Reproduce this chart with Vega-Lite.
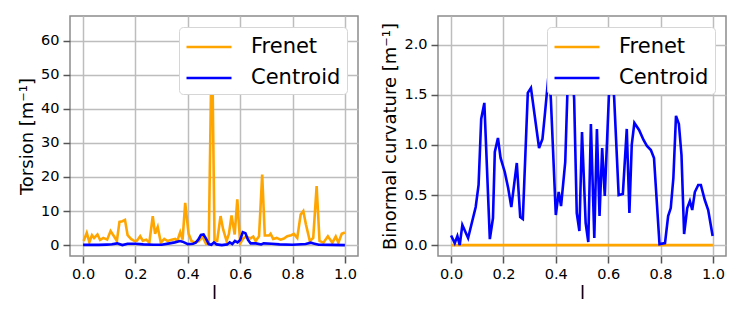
{
  "$schema": "https://vega.github.io/schema/vega-lite/v6.json",
  "background": "white",
  "padding": {"left": 17, "top": 15, "right": 5, "bottom": 5},
  "spacing": 80,
  "bounds": "flush",
  "datasets": {
    "torsion": [
      {"l": 0.002, "value": 1.2, "series": "Frenet"},
      {"l": 0.014, "value": 3.6, "series": "Frenet"},
      {"l": 0.024, "value": 0.9, "series": "Frenet"},
      {"l": 0.034, "value": 2.9, "series": "Frenet"},
      {"l": 0.042, "value": 2.1, "series": "Frenet"},
      {"l": 0.055, "value": 3.1, "series": "Frenet"},
      {"l": 0.065, "value": 1.5, "series": "Frenet"},
      {"l": 0.077, "value": 2.1, "series": "Frenet"},
      {"l": 0.092, "value": 1.6, "series": "Frenet"},
      {"l": 0.105, "value": 4.1, "series": "Frenet"},
      {"l": 0.118, "value": 2.6, "series": "Frenet"},
      {"l": 0.129, "value": 1.2, "series": "Frenet"},
      {"l": 0.139, "value": 6.8, "series": "Frenet"},
      {"l": 0.15, "value": 7.0, "series": "Frenet"},
      {"l": 0.16, "value": 7.4, "series": "Frenet"},
      {"l": 0.17, "value": 2.9, "series": "Frenet"},
      {"l": 0.183, "value": 1.8, "series": "Frenet"},
      {"l": 0.196, "value": 1.2, "series": "Frenet"},
      {"l": 0.206, "value": 1.3, "series": "Frenet"},
      {"l": 0.218, "value": 2.6, "series": "Frenet"},
      {"l": 0.228, "value": 1.3, "series": "Frenet"},
      {"l": 0.241, "value": 1.6, "series": "Frenet"},
      {"l": 0.253, "value": 0.7, "series": "Frenet"},
      {"l": 0.266, "value": 8.5, "series": "Frenet"},
      {"l": 0.275, "value": 3.3, "series": "Frenet"},
      {"l": 0.285, "value": 5.3, "series": "Frenet"},
      {"l": 0.297, "value": 0.7, "series": "Frenet"},
      {"l": 0.31, "value": 1.8, "series": "Frenet"},
      {"l": 0.323, "value": 1.2, "series": "Frenet"},
      {"l": 0.338, "value": 1.6, "series": "Frenet"},
      {"l": 0.352, "value": 1.8, "series": "Frenet"},
      {"l": 0.36, "value": 1.3, "series": "Frenet"},
      {"l": 0.371, "value": 3.8, "series": "Frenet"},
      {"l": 0.38, "value": 1.6, "series": "Frenet"},
      {"l": 0.39, "value": 12.4, "series": "Frenet"},
      {"l": 0.403, "value": 3.3, "series": "Frenet"},
      {"l": 0.414, "value": 1.2, "series": "Frenet"},
      {"l": 0.427, "value": 0.7, "series": "Frenet"},
      {"l": 0.443, "value": 1.2, "series": "Frenet"},
      {"l": 0.456, "value": 2.5, "series": "Frenet"},
      {"l": 0.47, "value": 0.3, "series": "Frenet"},
      {"l": 0.48, "value": 0.5, "series": "Frenet"},
      {"l": 0.492, "value": 64.0, "series": "Frenet"},
      {"l": 0.502, "value": 1.0, "series": "Frenet"},
      {"l": 0.512, "value": 1.2, "series": "Frenet"},
      {"l": 0.525, "value": 8.5, "series": "Frenet"},
      {"l": 0.535, "value": 4.6, "series": "Frenet"},
      {"l": 0.548, "value": 1.2, "series": "Frenet"},
      {"l": 0.557, "value": 3.3, "series": "Frenet"},
      {"l": 0.567, "value": 8.7, "series": "Frenet"},
      {"l": 0.579, "value": 3.1, "series": "Frenet"},
      {"l": 0.589, "value": 13.4, "series": "Frenet"},
      {"l": 0.6, "value": 0.5, "series": "Frenet"},
      {"l": 0.612, "value": 2.0, "series": "Frenet"},
      {"l": 0.624, "value": 2.5, "series": "Frenet"},
      {"l": 0.637, "value": 1.9, "series": "Frenet"},
      {"l": 0.65, "value": 2.5, "series": "Frenet"},
      {"l": 0.659, "value": 1.2, "series": "Frenet"},
      {"l": 0.672, "value": 2.6, "series": "Frenet"},
      {"l": 0.684, "value": 20.7, "series": "Frenet"},
      {"l": 0.694, "value": 2.8, "series": "Frenet"},
      {"l": 0.71, "value": 2.8, "series": "Frenet"},
      {"l": 0.716, "value": 3.3, "series": "Frenet"},
      {"l": 0.726, "value": 1.8, "series": "Frenet"},
      {"l": 0.739, "value": 2.1, "series": "Frenet"},
      {"l": 0.754, "value": 1.6, "series": "Frenet"},
      {"l": 0.767, "value": 1.9, "series": "Frenet"},
      {"l": 0.78, "value": 2.6, "series": "Frenet"},
      {"l": 0.795, "value": 2.9, "series": "Frenet"},
      {"l": 0.805, "value": 3.3, "series": "Frenet"},
      {"l": 0.818, "value": 2.1, "series": "Frenet"},
      {"l": 0.831, "value": 9.0, "series": "Frenet"},
      {"l": 0.841, "value": 10.0, "series": "Frenet"},
      {"l": 0.851, "value": 6.1, "series": "Frenet"},
      {"l": 0.866, "value": 1.2, "series": "Frenet"},
      {"l": 0.879, "value": 2.1, "series": "Frenet"},
      {"l": 0.892, "value": 17.3, "series": "Frenet"},
      {"l": 0.903, "value": 1.2, "series": "Frenet"},
      {"l": 0.918, "value": 0.7, "series": "Frenet"},
      {"l": 0.935, "value": 2.6, "series": "Frenet"},
      {"l": 0.952, "value": 0.7, "series": "Frenet"},
      {"l": 0.965, "value": 2.5, "series": "Frenet"},
      {"l": 0.975, "value": 0.7, "series": "Frenet"},
      {"l": 0.988, "value": 3.3, "series": "Frenet"},
      {"l": 1.0, "value": 3.7, "series": "Frenet"},
      {"l": 0.0, "value": 0.05, "series": "Centroid"},
      {"l": 0.03, "value": 0.1, "series": "Centroid"},
      {"l": 0.06, "value": 0.05, "series": "Centroid"},
      {"l": 0.09, "value": 0.15, "series": "Centroid"},
      {"l": 0.11, "value": 0.25, "series": "Centroid"},
      {"l": 0.13, "value": 0.5, "series": "Centroid"},
      {"l": 0.15, "value": 0.0, "series": "Centroid"},
      {"l": 0.17, "value": 0.4, "series": "Centroid"},
      {"l": 0.2, "value": 0.4, "series": "Centroid"},
      {"l": 0.23, "value": 0.2, "series": "Centroid"},
      {"l": 0.27, "value": 0.1, "series": "Centroid"},
      {"l": 0.3, "value": 0.1, "series": "Centroid"},
      {"l": 0.33, "value": 0.5, "series": "Centroid"},
      {"l": 0.35, "value": 0.8, "series": "Centroid"},
      {"l": 0.37, "value": 1.2, "series": "Centroid"},
      {"l": 0.38, "value": 1.0, "series": "Centroid"},
      {"l": 0.4, "value": 0.3, "series": "Centroid"},
      {"l": 0.42, "value": 0.4, "series": "Centroid"},
      {"l": 0.43, "value": 0.7, "series": "Centroid"},
      {"l": 0.44, "value": 1.6, "series": "Centroid"},
      {"l": 0.45, "value": 3.0, "series": "Centroid"},
      {"l": 0.46, "value": 3.1, "series": "Centroid"},
      {"l": 0.47, "value": 1.8, "series": "Centroid"},
      {"l": 0.48, "value": 0.3, "series": "Centroid"},
      {"l": 0.49, "value": 0.1, "series": "Centroid"},
      {"l": 0.5, "value": 0.8, "series": "Centroid"},
      {"l": 0.51, "value": 0.2, "series": "Centroid"},
      {"l": 0.53, "value": 0.0, "series": "Centroid"},
      {"l": 0.55, "value": 0.2, "series": "Centroid"},
      {"l": 0.56, "value": 0.8, "series": "Centroid"},
      {"l": 0.57, "value": 0.3, "series": "Centroid"},
      {"l": 0.58, "value": 1.2, "series": "Centroid"},
      {"l": 0.59, "value": 0.8, "series": "Centroid"},
      {"l": 0.6, "value": 1.5, "series": "Centroid"},
      {"l": 0.61, "value": 3.8, "series": "Centroid"},
      {"l": 0.62, "value": 3.5, "series": "Centroid"},
      {"l": 0.63, "value": 1.5, "series": "Centroid"},
      {"l": 0.64, "value": 0.5, "series": "Centroid"},
      {"l": 0.66, "value": 0.5, "series": "Centroid"},
      {"l": 0.68, "value": 0.2, "series": "Centroid"},
      {"l": 0.69, "value": 0.5, "series": "Centroid"},
      {"l": 0.72, "value": 0.4, "series": "Centroid"},
      {"l": 0.75, "value": 0.2, "series": "Centroid"},
      {"l": 0.8, "value": 0.1, "series": "Centroid"},
      {"l": 0.85, "value": 0.3, "series": "Centroid"},
      {"l": 0.87, "value": 0.7, "series": "Centroid"},
      {"l": 0.88, "value": 0.5, "series": "Centroid"},
      {"l": 0.9, "value": 0.1, "series": "Centroid"},
      {"l": 0.95, "value": 0.05, "series": "Centroid"},
      {"l": 1.0, "value": 0.0, "series": "Centroid"}
    ],
    "binormal": [
      {"l": 0.0, "value": 0.0, "series": "Frenet"},
      {"l": 0.1, "value": 0.0, "series": "Frenet"},
      {"l": 0.2, "value": 0.0, "series": "Frenet"},
      {"l": 0.3, "value": 0.0, "series": "Frenet"},
      {"l": 0.4, "value": 0.0, "series": "Frenet"},
      {"l": 0.5, "value": 0.0, "series": "Frenet"},
      {"l": 0.6, "value": 0.0, "series": "Frenet"},
      {"l": 0.7, "value": 0.0, "series": "Frenet"},
      {"l": 0.8, "value": 0.0, "series": "Frenet"},
      {"l": 0.9, "value": 0.0, "series": "Frenet"},
      {"l": 1.0, "value": 0.0, "series": "Frenet"},
      {"l": 0.0, "value": 0.096, "series": "Centroid"},
      {"l": 0.014, "value": 0.02, "series": "Centroid"},
      {"l": 0.024, "value": 0.09, "series": "Centroid"},
      {"l": 0.033, "value": 0.0, "series": "Centroid"},
      {"l": 0.043, "value": 0.2, "series": "Centroid"},
      {"l": 0.065, "value": 0.07, "series": "Centroid"},
      {"l": 0.094, "value": 0.38, "series": "Centroid"},
      {"l": 0.105, "value": 0.6, "series": "Centroid"},
      {"l": 0.115, "value": 1.26, "series": "Centroid"},
      {"l": 0.127, "value": 1.42, "series": "Centroid"},
      {"l": 0.148, "value": 0.06, "series": "Centroid"},
      {"l": 0.16, "value": 0.27, "series": "Centroid"},
      {"l": 0.167, "value": 0.93, "series": "Centroid"},
      {"l": 0.179, "value": 1.07, "series": "Centroid"},
      {"l": 0.189, "value": 0.87, "series": "Centroid"},
      {"l": 0.205, "value": 0.73, "series": "Centroid"},
      {"l": 0.218, "value": 0.57, "series": "Centroid"},
      {"l": 0.23, "value": 0.38, "series": "Centroid"},
      {"l": 0.251, "value": 0.82, "series": "Centroid"},
      {"l": 0.264, "value": 0.28, "series": "Centroid"},
      {"l": 0.274, "value": 0.26, "series": "Centroid"},
      {"l": 0.293, "value": 1.52, "series": "Centroid"},
      {"l": 0.305, "value": 1.57, "series": "Centroid"},
      {"l": 0.336, "value": 0.97, "series": "Centroid"},
      {"l": 0.349, "value": 1.06, "series": "Centroid"},
      {"l": 0.358, "value": 1.3, "series": "Centroid"},
      {"l": 0.374, "value": 1.75, "series": "Centroid"},
      {"l": 0.381, "value": 1.46, "series": "Centroid"},
      {"l": 0.4, "value": 0.3, "series": "Centroid"},
      {"l": 0.411, "value": 0.53, "series": "Centroid"},
      {"l": 0.42, "value": 0.39, "series": "Centroid"},
      {"l": 0.436, "value": 0.83, "series": "Centroid"},
      {"l": 0.452, "value": 2.17, "series": "Centroid"},
      {"l": 0.47, "value": 1.46, "series": "Centroid"},
      {"l": 0.48, "value": 0.32, "series": "Centroid"},
      {"l": 0.49, "value": 0.14, "series": "Centroid"},
      {"l": 0.5, "value": 1.13, "series": "Centroid"},
      {"l": 0.514, "value": 0.22, "series": "Centroid"},
      {"l": 0.524, "value": 0.03, "series": "Centroid"},
      {"l": 0.534, "value": 1.21, "series": "Centroid"},
      {"l": 0.547, "value": 0.07, "series": "Centroid"},
      {"l": 0.557, "value": 1.16, "series": "Centroid"},
      {"l": 0.567, "value": 0.29, "series": "Centroid"},
      {"l": 0.577, "value": 0.97, "series": "Centroid"},
      {"l": 0.587, "value": 0.49, "series": "Centroid"},
      {"l": 0.61, "value": 1.95, "series": "Centroid"},
      {"l": 0.623, "value": 1.46, "series": "Centroid"},
      {"l": 0.64, "value": 0.5, "series": "Centroid"},
      {"l": 0.656, "value": 0.51, "series": "Centroid"},
      {"l": 0.671, "value": 1.16, "series": "Centroid"},
      {"l": 0.681, "value": 0.32, "series": "Centroid"},
      {"l": 0.69, "value": 1.0, "series": "Centroid"},
      {"l": 0.7, "value": 1.22, "series": "Centroid"},
      {"l": 0.718, "value": 1.15, "series": "Centroid"},
      {"l": 0.735, "value": 1.05, "series": "Centroid"},
      {"l": 0.748, "value": 0.99, "series": "Centroid"},
      {"l": 0.763, "value": 0.95, "series": "Centroid"},
      {"l": 0.775, "value": 0.87, "series": "Centroid"},
      {"l": 0.796, "value": 0.01, "series": "Centroid"},
      {"l": 0.817, "value": 0.02, "series": "Centroid"},
      {"l": 0.829, "value": 0.29, "series": "Centroid"},
      {"l": 0.839, "value": 0.37, "series": "Centroid"},
      {"l": 0.849, "value": 0.67, "series": "Centroid"},
      {"l": 0.859, "value": 1.29, "series": "Centroid"},
      {"l": 0.87, "value": 1.21, "series": "Centroid"},
      {"l": 0.88, "value": 0.9, "series": "Centroid"},
      {"l": 0.89, "value": 0.11, "series": "Centroid"},
      {"l": 0.902, "value": 0.37, "series": "Centroid"},
      {"l": 0.912, "value": 0.44, "series": "Centroid"},
      {"l": 0.921, "value": 0.35, "series": "Centroid"},
      {"l": 0.931, "value": 0.53, "series": "Centroid"},
      {"l": 0.944, "value": 0.6, "series": "Centroid"},
      {"l": 0.954, "value": 0.6, "series": "Centroid"},
      {"l": 0.969, "value": 0.45, "series": "Centroid"},
      {"l": 0.982, "value": 0.35, "series": "Centroid"},
      {"l": 0.999, "value": 0.09, "series": "Centroid"}
    ]
  },
  "hconcat": [
    {
      "width": 288,
      "height": 240,
      "data": {"name": "torsion"},
      "mark": {"type": "line", "strokeWidth": 2.6},
      "encoding": {
        "x": {"field": "l", "type": "quantitative", "scale": {"domain": [-0.05, 1.05], "nice": false, "zero": false}, "axis": {"title": "l", "values": [0, 0.2, 0.4, 0.6, 0.8, 1.0], "format": ".1f"}},
        "y": {"field": "value", "type": "quantitative", "scale": {"domain": [-3.2, 67.2], "nice": false, "zero": false}, "axis": {"title": "Torsion [m⁻¹]", "values": [0, 10, 20, 30, 40, 50, 60], "format": "d"}},
        "color": {"field": "series", "type": "nominal", "sort": ["Frenet", "Centroid"], "scale": {"domain": ["Frenet", "Centroid"], "range": ["#FFA500", "#0000FF"]}, "legend": {"title": null, "zindex": 1}},
        "order": {"field": "l", "type": "quantitative"}
      }
    },
    {
      "width": 288,
      "height": 240,
      "data": {"name": "binormal"},
      "mark": {"type": "line", "strokeWidth": 2.6},
      "encoding": {
        "x": {"field": "l", "type": "quantitative", "scale": {"domain": [-0.05, 1.05], "nice": false, "zero": false}, "axis": {"title": "l", "values": [0, 0.2, 0.4, 0.6, 0.8, 1.0], "format": ".1f"}},
        "y": {"field": "value", "type": "quantitative", "scale": {"domain": [-0.109, 2.288], "nice": false, "zero": false}, "axis": {"title": "Binormal curvature [m⁻¹]", "values": [0, 0.5, 1.0, 1.5, 2.0], "format": ".1f"}},
        "color": {"field": "series", "type": "nominal", "sort": ["Frenet", "Centroid"], "scale": {"domain": ["Frenet", "Centroid"], "range": ["#FFA500", "#0000FF"]}, "legend": {"title": null, "zindex": 1}},
        "order": {"field": "l", "type": "quantitative"}
      }
    }
  ],
  "resolve": {"scale": {"color": "independent", "x": "independent", "y": "independent"}, "legend": {"color": "independent"}},
  "config": {
    "font": "DejaVu Sans",
    "view": {"stroke": "#8c8c8c", "strokeWidth": 1.5},
    "axis": {
      "domain": false,
      "grid": true,
      "gridColor": "#bdbdbd",
      "gridWidth": 1.5,
      "ticks": true,
      "tickColor": "#555555",
      "tickSize": 7,
      "tickWidth": 1.5,
      "labelFont": "DejaVu Sans",
      "labelFontSize": 14.5,
      "labelColor": "black",
      "labelPadding": 4,
      "titleFont": "DejaVu Sans",
      "titleFontSize": 18,
      "titleFontWeight": "normal",
      "titleColor": "black",
      "titlePadding": 4
    },
    "legend": {
      "orient": "top-right",
      "offset": 11,
      "zindex": 1,
      "fillColor": "#ffffff",
      "strokeColor": "#d6d6d6",
      "cornerRadius": 4,
      "padding": 6,
      "labelFont": "DejaVu Sans",
      "labelFontSize": 21,
      "labelColor": "black",
      "labelOffset": 38,
      "symbolType": "M-1,0H2.6",
      "symbolSize": 625,
      "symbolStrokeWidth": 2.6,
      "rowPadding": 7
    }
  }
}
